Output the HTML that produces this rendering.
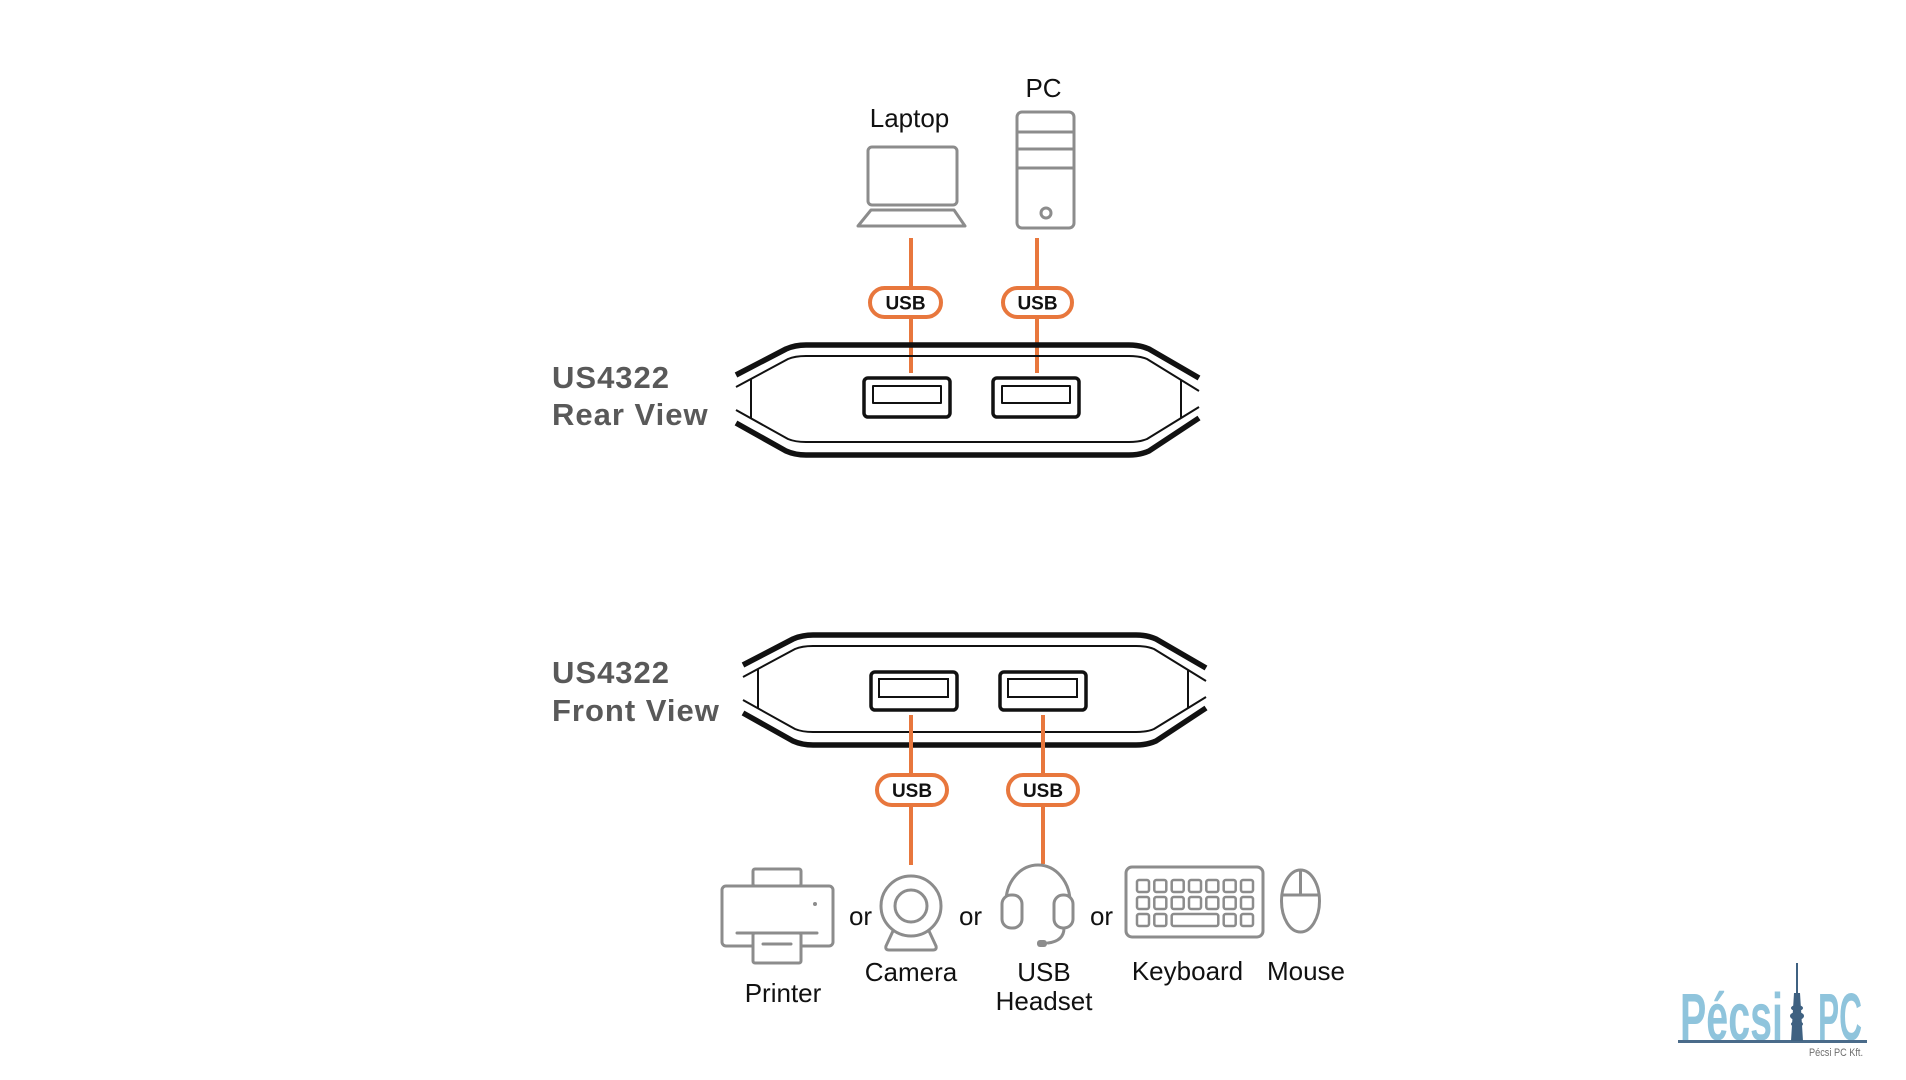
<!DOCTYPE html>
<html><head><meta charset="utf-8"><style>
html,body{margin:0;padding:0;background:#fff;}
svg{display:block;}
</style></head><body>
<svg width="1906" height="1080" viewBox="0 0 1906 1080" xmlns="http://www.w3.org/2000/svg">
<rect width="1906" height="1080" fill="#fff"/>

<!-- Top labels -->
<g font-family="Liberation Sans, Arial, sans-serif" font-size="26" fill="#111" text-anchor="middle">
  <text x="909.5" y="127">Laptop</text>
  <text x="1043.5" y="97">PC</text>
</g>

<!-- Laptop icon -->
<g fill="none" stroke="#8c8c8c" stroke-width="3" stroke-linejoin="round">
  <rect x="868" y="147" width="89" height="58" rx="4"/>
  <path d="M871,210 L954,210 L965,226 L858,226 Z"/>
  <!-- PC tower -->
  <rect x="1017" y="112" width="57" height="116" rx="5"/>
  <line x1="1017" y1="132" x2="1074" y2="132"/>
  <line x1="1017" y1="149" x2="1074" y2="149"/>
  <line x1="1017" y1="168" x2="1074" y2="168"/>
  <circle cx="1046" cy="213" r="5"/>
</g>

<!-- Rear orange lines -->
<g stroke="#e8773d" stroke-width="4">
  <line x1="911" y1="238" x2="911" y2="373"/>
  <line x1="1037" y1="238" x2="1037" y2="373"/>
</g>
<!-- Rear badges -->
<g fill="#fff" stroke="#e8773d" stroke-width="4">
  <rect x="870" y="288" width="71" height="29" rx="14.5"/>
  <rect x="1003" y="288" width="69" height="29" rx="14.5"/>
</g>
<g font-family="Liberation Sans, Arial, sans-serif" font-weight="bold" font-size="19" fill="#111" text-anchor="middle">
  <text x="905.5" y="309.5">USB</text>
  <text x="1037.5" y="309.5">USB</text>
</g>

<!-- Rear device -->
<g fill="none" stroke="#111" stroke-linejoin="round">
  <path stroke-width="5.5" d="M736,375 L786,349 Q795,345 806,345 L1129,345 Q1140,345 1149,349 L1199,378"/>
  <path stroke-width="5.5" d="M736,423 L786,451 Q795,455 806,455 L1129,455 Q1140,455 1149,451 L1199,418"/>
  <path stroke-width="2" d="M736,387 L788,359 Q795,356 806,356 L1129,356 Q1140,356 1147,359 L1199,391"/>
  <path stroke-width="2" d="M736,410 L788,439 Q795,442 806,442 L1129,442 Q1140,442 1147,439 L1199,407"/>
  <line stroke-width="2" x1="751" y1="379" x2="751" y2="418"/>
  <line stroke-width="2" x1="1181" y1="380" x2="1181" y2="418"/>
  <rect stroke-width="3.5" x="864" y="378" width="86" height="39" rx="4"/>
  <rect stroke-width="2" x="873" y="386" width="68" height="17"/>
  <rect stroke-width="3.5" x="993" y="378" width="86" height="39" rx="4"/>
  <rect stroke-width="2" x="1002" y="386" width="68" height="17"/>
</g>

<!-- Device labels -->
<g font-family="Liberation Sans, Arial, sans-serif" font-weight="bold" font-size="31" fill="#595959" letter-spacing="1">
  <text x="552" y="388">US4322</text>
  <text x="552" y="425">Rear View</text>
  <text x="552" y="683">US4322</text>
  <text x="552" y="721">Front View</text>
</g>

<!-- Front device -->
<g fill="none" stroke="#111" stroke-linejoin="round" transform="translate(7,290)">
  <path stroke-width="5.5" d="M736,375 L786,349 Q795,345 806,345 L1129,345 Q1140,345 1149,349 L1199,378"/>
  <path stroke-width="5.5" d="M736,423 L786,451 Q795,455 806,455 L1129,455 Q1140,455 1149,451 L1199,418"/>
  <path stroke-width="2" d="M736,387 L788,359 Q795,356 806,356 L1129,356 Q1140,356 1147,359 L1199,391"/>
  <path stroke-width="2" d="M736,410 L788,439 Q795,442 806,442 L1129,442 Q1140,442 1147,439 L1199,407"/>
  <line stroke-width="2" x1="751" y1="379" x2="751" y2="418"/>
  <line stroke-width="2" x1="1181" y1="380" x2="1181" y2="418"/>
</g>
<g fill="none" stroke="#111">
  <rect stroke-width="3.5" x="871" y="672" width="86" height="38" rx="4"/>
  <rect stroke-width="2" x="879" y="679" width="69" height="18"/>
  <rect stroke-width="3.5" x="1000" y="672" width="86" height="38" rx="4"/>
  <rect stroke-width="2" x="1008" y="679" width="69" height="18"/>
</g>

<!-- Front orange lines -->
<g stroke="#e8773d" stroke-width="4">
  <line x1="911" y1="715" x2="911" y2="865"/>
  <line x1="1043" y1="715" x2="1043" y2="864"/>
</g>
<g fill="#fff" stroke="#e8773d" stroke-width="4">
  <rect x="877" y="775" width="70" height="30" rx="15"/>
  <rect x="1008" y="775" width="70" height="30" rx="15"/>
</g>
<g font-family="Liberation Sans, Arial, sans-serif" font-weight="bold" font-size="19" fill="#111" text-anchor="middle">
  <text x="912" y="797">USB</text>
  <text x="1043" y="797">USB</text>
</g>

<!-- Bottom icons -->
<g fill="none" stroke="#8c8c8c" stroke-width="3" stroke-linejoin="round" stroke-linecap="round">
  <!-- Printer -->
  <rect x="753" y="869" width="48" height="17" rx="2"/>
  <rect x="722" y="886" width="111" height="60" rx="4"/>
  <rect x="753" y="933" width="48" height="30" rx="2" fill="#fff"/>
  <line x1="737" y1="933" x2="817" y2="933"/>
  <line x1="763" y1="944" x2="791" y2="944"/>
  <!-- Camera -->
  <path d="M893,931 L886,946 Q885,950 889,950 L933,950 Q937,950 936,946 L929,931" fill="#fff"/>
  <circle cx="911" cy="906" r="30" fill="#fff"/>
  <circle cx="911" cy="906" r="16"/>
  <!-- Headset -->
  <path d="M1006,902 A 32 37 0 0 1 1070,902"/>
  <rect x="1002" y="895" width="20" height="33" rx="9" fill="#fff"/>
  <rect x="1054" y="895" width="19" height="33" rx="9" fill="#fff"/>
  <path d="M1064,928 Q1064,941 1048,943"/>
  <!-- Keyboard -->
  <rect x="1126" y="867" width="137" height="70" rx="6"/>
</g>
<circle cx="815" cy="904" r="2" fill="#8c8c8c"/>
<rect x="1037" y="940" width="10" height="7" rx="3" fill="#8c8c8c"/>

<!-- Keyboard keys -->
<g fill="none" stroke="#8c8c8c" stroke-width="2.5">
  <rect x="1137" y="880" width="12" height="12" rx="2"/>
  <rect x="1154.3" y="880" width="12" height="12" rx="2"/>
  <rect x="1171.7" y="880" width="12" height="12" rx="2"/>
  <rect x="1189" y="880" width="12" height="12" rx="2"/>
  <rect x="1206.3" y="880" width="12" height="12" rx="2"/>
  <rect x="1223.7" y="880" width="12" height="12" rx="2"/>
  <rect x="1241" y="880" width="12" height="12" rx="2"/>
  <rect x="1137" y="897" width="12" height="12" rx="2"/>
  <rect x="1154.3" y="897" width="12" height="12" rx="2"/>
  <rect x="1171.7" y="897" width="12" height="12" rx="2"/>
  <rect x="1189" y="897" width="12" height="12" rx="2"/>
  <rect x="1206.3" y="897" width="12" height="12" rx="2"/>
  <rect x="1223.7" y="897" width="12" height="12" rx="2"/>
  <rect x="1241" y="897" width="12" height="12" rx="2"/>
  <rect x="1137" y="914" width="12" height="12" rx="2"/>
  <rect x="1154.3" y="914" width="12" height="12" rx="2"/>
  <rect x="1171.7" y="914" width="46.6" height="12" rx="2"/>
  <rect x="1223.7" y="914" width="12" height="12" rx="2"/>
  <rect x="1241" y="914" width="12" height="12" rx="2"/>
</g>
<!-- Mouse -->
<g fill="none" stroke="#8c8c8c" stroke-width="3">
  <ellipse cx="1300.5" cy="901" rx="19" ry="31"/>
  <line x1="1300.5" y1="870" x2="1300.5" y2="895"/>
  <line x1="1282" y1="895" x2="1319" y2="895"/>
</g>

<!-- Bottom labels -->
<g font-family="Liberation Sans, Arial, sans-serif" font-size="26" fill="#111" text-anchor="middle">
  <text x="860.5" y="925">or</text>
  <text x="970.5" y="925">or</text>
  <text x="1101.5" y="925">or</text>
  <text x="783" y="1002">Printer</text>
  <text x="911" y="981">Camera</text>
  <text x="1044" y="981">USB</text>
  <text x="1044" y="1010">Headset</text>
  <text x="1187.5" y="980">Keyboard</text>
  <text x="1306" y="980">Mouse</text>
</g>

<!-- Logo -->
<g>
  <text x="1680" y="1040" font-family="Liberation Sans, Arial, sans-serif" font-weight="bold" font-size="67" fill="#8fc4dc" textLength="103" lengthAdjust="spacingAndGlyphs">Pécsi</text>
  <text x="1818" y="1040" font-family="Liberation Sans, Arial, sans-serif" font-weight="bold" font-size="67" fill="#8fc4dc" textLength="44" lengthAdjust="spacingAndGlyphs">PC</text>
  <rect x="1678" y="1040" width="189" height="3" fill="#4a6b8a"/>
  <g fill="#3f6181">
    <rect x="1796" y="963" width="2" height="32"/>
    <polygon points="1794,993 1800,993 1803,1041 1791,1041"/>
    <ellipse cx="1797" cy="1008" rx="6" ry="3"/>
    <ellipse cx="1797" cy="1016" rx="7" ry="4"/>
    <ellipse cx="1797" cy="1024" rx="6" ry="3"/>
  </g>
  <text x="1809" y="1056" font-family="Liberation Sans, Arial, sans-serif" font-size="11" fill="#6d6d6d" textLength="54" lengthAdjust="spacingAndGlyphs">Pécsi PC Kft.</text>
</g>
</svg>
</body></html>
